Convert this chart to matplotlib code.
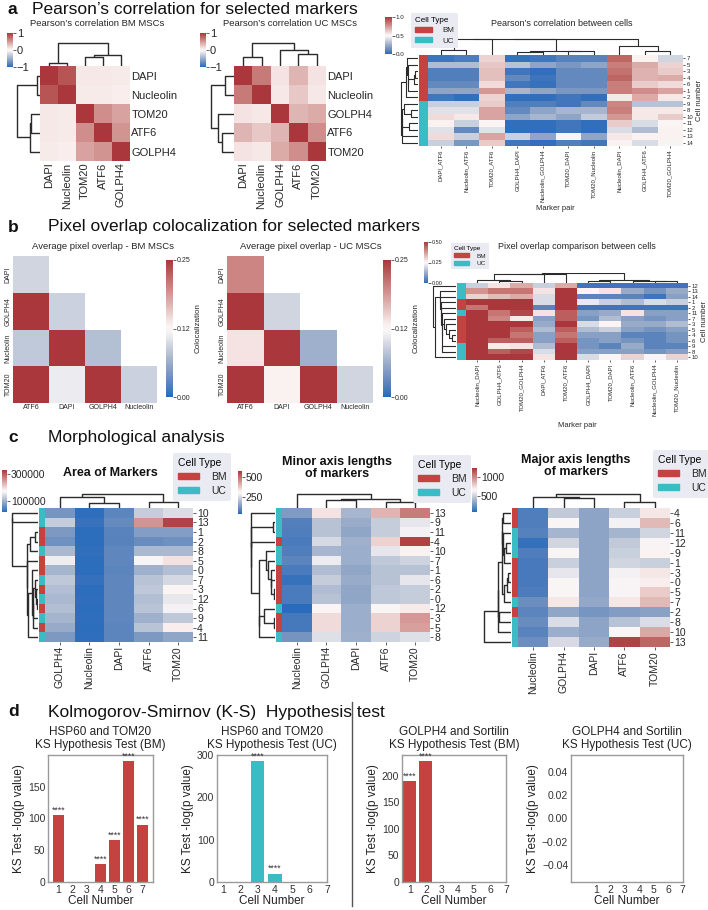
import numpy as np
import matplotlib
matplotlib.use('Agg')
import matplotlib.pyplot as plt
from matplotlib.colors import ListedColormap, Normalize
from matplotlib.cm import ScalarMappable
from matplotlib.patches import Patch
from matplotlib.lines import Line2D
import seaborn as sns

plt.rcParams['font.family'] = ['Liberation Sans', 'DejaVu Sans']

W, H = 708, 910
BM_COL = '#c4423f'
UC_COL = '#3bbcc4'
TXT = '#262626'
cmap = sns.color_palette('vlag', as_cmap=True)

# ---------------- panel a: Pearson's correlation
a_bm_markers = ['DAPI', 'Nucleolin', 'TOM20', 'ATF6', 'GOLPH4']
a_bm_corr = [[1.00, 0.85, 0.10, 0.10, 0.08],
             [0.85, 1.00, 0.08, 0.08, 0.07],
             [0.10, 0.08, 1.00, 0.55, 0.45],
             [0.10, 0.08, 0.55, 1.00, 0.52],
             [0.08, 0.07, 0.45, 0.52, 1.00]]
a_uc_markers = ['DAPI', 'Nucleolin', 'GOLPH4', 'ATF6', 'TOM20']
a_uc_corr = [[1.00, 0.65, 0.12, 0.35, 0.12],
             [0.65, 1.00, 0.10, 0.25, 0.10],
             [0.12, 0.10, 1.00, 0.35, 0.40],
             [0.35, 0.25, 0.35, 1.00, 0.55],
             [0.12, 0.10, 0.40, 0.55, 1.00]]
a_pairs = ['DAPI_ATF6', 'Nucleolin_ATF6', 'TOM20_ATF6', 'GOLPH4_DAPI', 'Nucleolin_GOLPH4',
           'TOM20_DAPI', 'TOM20_Nucleolin', 'Nucleolin_DAPI', 'GOLPH4_ATF6', 'TOM20_GOLPH4']
a_cells = [7, 5, 3, 4, 6, 1, 2, 9, 8, 10, 11, 12, 13, 14]
a_cell_corr = [[0.04, 0.07, 0.60, 0.03, 0.05, 0.09, 0.09, 0.88, 0.52, 0.38],
               [0.30, 0.30, 0.63, 0.32, 0.22, 0.17, 0.22, 0.82, 0.70, 0.60],
               [0.08, 0.08, 0.65, 0.05, 0.02, 0.12, 0.12, 0.85, 0.68, 0.62],
               [0.08, 0.08, 0.65, 0.12, 0.04, 0.12, 0.12, 0.88, 0.68, 0.70],
               [0.12, 0.12, 0.58, 0.05, 0.03, 0.12, 0.12, 0.82, 0.62, 0.58],
               [0.22, 0.22, 0.75, 0.28, 0.22, 0.17, 0.17, 0.82, 0.78, 0.72],
               [0.05, 0.02, 0.60, 0.02, 0.02, 0.05, 0.02, 0.55, 0.70, 0.55],
               [0.36, 0.36, 0.62, 0.08, 0.08, 0.05, 0.12, 0.80, 0.32, 0.32],
               [0.42, 0.42, 0.72, 0.12, 0.22, 0.28, 0.28, 0.82, 0.55, 0.55],
               [0.58, 0.55, 0.72, 0.22, 0.28, 0.22, 0.35, 0.75, 0.55, 0.62],
               [0.52, 0.36, 0.50, 0.02, 0.02, 0.05, 0.02, 0.62, 0.40, 0.50],
               [0.42, 0.12, 0.42, 0.02, 0.02, 0.05, 0.02, 0.40, 0.30, 0.52],
               [0.58, 0.36, 0.72, 0.36, 0.22, 0.50, 0.22, 0.55, 0.52, 0.52],
               [0.36, 0.17, 0.62, 0.05, 0.02, 0.08, 0.05, 0.52, 0.40, 0.48]]

# ---------------- panel b: pixel overlap
b_rows = ['DAPI', 'GOLPH4', 'Nucleolin', 'TOM20']
b_cols = ['ATF6', 'DAPI', 'GOLPH4', 'Nucleolin']
nan = np.nan
b_bm_overlap = [[0.095, nan, nan, nan],
                [0.25, 0.092, nan, nan],
                [0.085, 0.25, 0.078, nan],
                [0.25, 0.112, 0.25, 0.092]]
b_uc_overlap = [[0.20, nan, nan, nan],
                [0.25, 0.095, nan, nan],
                [0.14, 0.25, 0.065, nan],
                [0.25, 0.13, 0.25, 0.095]]
b_pairs = ['Nucleolin_DAPI', 'GOLPH4_ATF6', 'TOM20_GOLPH4', 'DAPI_ATF6', 'TOM20_ATF6',
           'GOLPH4_DAPI', 'TOM20_DAPI', 'Nucleolin_ATF6', 'Nucleolin_GOLPH4', 'TOM20_Nucleolin']
b_cells = [12, 13, 14, 1, 2, 11, 7, 3, 5, 4, 6, 9, 8, 10]
b_cell_overlap = [[0.18, 0.28, 0.35, 0.18, 0.35, 0.02, 0.02, 0.02, 0.02, 0.02],
                  [0.38, 0.42, 0.42, 0.28, 0.50, 0.25, 0.28, 0.12, 0.08, 0.12],
                  [0.30, 0.33, 0.35, 0.20, 0.50, 0.05, 0.05, 0.05, 0.02, 0.10],
                  [0.50, 0.50, 0.50, 0.20, 0.50, 0.22, 0.18, 0.15, 0.20, 0.18],
                  [0.42, 0.50, 0.50, 0.05, 0.50, 0.02, 0.02, 0.02, 0.02, 0.02],
                  [0.50, 0.42, 0.48, 0.28, 0.45, 0.10, 0.12, 0.28, 0.10, 0.10],
                  [0.50, 0.40, 0.27, 0.10, 0.45, 0.08, 0.15, 0.10, 0.08, 0.10],
                  [0.50, 0.50, 0.50, 0.12, 0.50, 0.20, 0.25, 0.12, 0.12, 0.15],
                  [0.50, 0.50, 0.45, 0.15, 0.45, 0.15, 0.18, 0.10, 0.08, 0.10],
                  [0.50, 0.50, 0.42, 0.10, 0.42, 0.10, 0.10, 0.05, 0.05, 0.08],
                  [0.50, 0.45, 0.45, 0.10, 0.45, 0.08, 0.10, 0.08, 0.05, 0.08],
                  [0.50, 0.27, 0.28, 0.15, 0.50, 0.08, 0.05, 0.12, 0.05, 0.05],
                  [0.50, 0.45, 0.48, 0.20, 0.50, 0.10, 0.10, 0.10, 0.08, 0.10],
                  [0.50, 0.50, 0.50, 0.28, 0.50, 0.20, 0.25, 0.30, 0.25, 0.30]]

# ---------------- panel c: morphology
c_area_cols = ['GOLPH4', 'Nucleolin', 'DAPI', 'ATF6', 'TOM20']
c_area_cells = [10, 13, 1, 2, 8, 5, 0, 7, 3, 12, 6, 9, 4, 11]
c_area = [[70000, 26000, 52000, 130000, 145000],
          [130000, 30000, 58000, 255000, 320000],
          [75000, 24000, 50000, 80000, 80000],
          [65000, 24000, 48000, 60000, 65000],
          [110000, 27000, 55000, 110000, 110000],
          [160000, 24000, 55000, 170000, 195000],
          [105000, 24000, 52000, 100000, 115000],
          [125000, 28000, 55000, 120000, 140000],
          [115000, 24000, 55000, 125000, 178000],
          [110000, 26000, 55000, 115000, 155000],
          [115000, 24000, 55000, 120000, 165000],
          [105000, 26000, 55000, 100000, 125000],
          [95000, 24000, 52000, 120000, 185000],
          [75000, 26000, 52000, 75000, 90000]]
c_axis_cols = ['Nucleolin', 'GOLPH4', 'DAPI', 'ATF6', 'TOM20']
c_minor_cells = [13, 9, 11, 4, 10, 7, 1, 6, 2, 0, 12, 3, 5, 8]
c_minor = [[140, 340, 190, 400, 480],
           [85, 210, 170, 230, 270],
           [80, 210, 160, 230, 290],
           [75, 250, 180, 360, 560],
           [80, 190, 175, 270, 320],
           [95, 280, 175, 220, 240],
           [75, 200, 160, 210, 210],
           [55, 230, 170, 210, 270],
           [75, 200, 160, 220, 230],
           [75, 210, 160, 220, 230],
           [45, 310, 175, 300, 330],
           [70, 350, 175, 360, 440],
           [70, 350, 175, 360, 430],
           [125, 260, 180, 240, 260]]
c_major_cells = [4, 6, 11, 12, 9, 1, 3, 0, 5, 7, 2, 8, 10, 13]
c_major = [[170, 480, 330, 500, 720],
           [170, 650, 330, 620, 850],
           [180, 400, 330, 400, 520],
           [110, 520, 330, 480, 640],
           [170, 650, 330, 500, 680],
           [150, 500, 330, 520, 500],
           [150, 580, 330, 620, 720],
           [150, 650, 330, 640, 700],
           [160, 650, 330, 640, 800],
           [240, 720, 350, 720, 850],
           [200, 340, 270, 300, 320],
           [230, 550, 330, 450, 550],
           [190, 370, 330, 650, 900],
           [240, 540, 360, 1200, 1100]]

# ---------------- panel d: KS test
ks_cells = [1, 2, 3, 4, 5, 6, 7]
hsp_bm = [105, 0, 0, 28, 66, 190, 90]
hsp_bm_stars = ['****', '', '', '****', '****', '****', '****']
hsp_uc = [0, 0, 286, 20, 0, 0, 0]
hsp_uc_stars = ['', '', '****', '****', '', '', '']
golph_bm = [190, 228, 0, 0, 0, 0, 0]
golph_bm_stars = ['****', '****', '', '', '', '', '']
golph_uc = [0, 0, 0, 0, 0, 0, 0]

fig = plt.figure(figsize=(W / 100, H / 100), dpi=100)


def box(x0, y0, x1, y1):
    return fig.add_axes([x0 / W, 1 - y1 / H, (x1 - x0) / W, (y1 - y0) / H])


def adj_tree(X):
    # average linkage, merging only neighbours so the leaf order is kept
    X = np.asarray(X, float)
    groups = [[i] for i in range(len(X))]
    nodes = list(range(len(X)))
    hts = [0.0] * len(X)
    while len(groups) > 1:
        d = [np.mean([np.linalg.norm(X[i] - X[j]) for i in groups[k] for j in groups[k + 1]])
             for k in range(len(groups) - 1)]
        k = int(np.argmin(d))
        h = max(d[k], hts[k], hts[k + 1]) + 1e-9
        nodes[k:k + 2] = [(nodes[k], nodes[k + 1], h)]
        hts[k:k + 2] = [h]
        groups[k:k + 2] = [groups[k] + groups[k + 1]]
    return nodes[0], hts[0]


def dendro(ax, X, orient, lw=0.9):
    tree, top = adj_tree(X)
    n = len(X)

    def walk(nd):
        if isinstance(nd, int):
            return nd + 0.5, 0.0
        pl, hl = walk(nd[0])
        pr, hr = walk(nd[1])
        h = nd[2]
        if orient == 'top':
            ax.plot([pl, pl, pr, pr], [hl, h, h, hr], color='#2b2b2b', lw=lw, solid_capstyle='butt')
        else:
            ax.plot([hl, h, h, hr], [pl, pl, pr, pr], color='#2b2b2b', lw=lw, solid_capstyle='butt')
        return (pl + pr) / 2, h

    walk(tree)
    if orient == 'top':
        ax.set_xlim(0, n)
        ax.set_ylim(0, top * 1.04)
    else:
        ax.set_ylim(n, 0)
        ax.set_xlim(top * 1.04, 0)
    ax.axis('off')


def heat(ax, M, norm, xl, yl, fs, right=True, tick_len=2.0):
    M = np.ma.masked_invalid(np.asarray(M, float))
    ax.pcolormesh(M, cmap=cmap, norm=norm, edgecolors='none')
    ax.set_xlim(0, M.shape[1])
    ax.set_ylim(M.shape[0], 0)
    ax.set_xticks(np.arange(M.shape[1]) + 0.5, xl, rotation=90, fontsize=fs, color=TXT)
    ax.set_yticks(np.arange(M.shape[0]) + 0.5, [str(v) for v in yl], fontsize=fs, color=TXT)
    if right:
        ax.yaxis.tick_right()
    for s in ax.spines.values():
        s.set_visible(False)
    ax.tick_params(length=tick_len, width=0.6, pad=1, color='#444')


def clustermap(cx0, cy0, cx1, cy1, M, norm, xl, yl, fs, row_w, col_h,
               types=None, strip_w=0, lw=0.9, tick_len=2.0):
    M = np.asarray(M, float)
    ax = box(cx0, cy0, cx1, cy1)
    heat(ax, M, norm, xl, yl, fs, tick_len=tick_len)
    left = cx0
    if types is not None:
        sax = box(cx0 - strip_w, cy0, cx0, cy1)
        sax.pcolormesh(np.array(types)[:, None], cmap=ListedColormap([BM_COL, UC_COL]), vmin=0, vmax=1)
        sax.set_ylim(len(types), 0)
        sax.axis('off')
        left = cx0 - strip_w - 1
    rax = box(left - row_w, cy0, left, cy1)
    dendro(rax, M, 'left', lw)
    dax = box(cx0, cy0 - col_h, cx1, cy0 - 0.5)
    dendro(dax, M.T, 'top', lw)
    return ax


def cbar(x0, y0, x1, y1, norm, ticks, labels, fs, label=None, lfs=6):
    cax = box(x0, y0, x1, y1)
    cb = fig.colorbar(ScalarMappable(norm=norm, cmap=cmap), cax=cax, ticks=ticks)
    cb.outline.set_visible(False)
    cb.set_ticklabels(labels)
    cax.tick_params(labelsize=fs, length=1.8, width=0.5, pad=1, colors=TXT)
    if label:
        cb.set_label(label, fontsize=lfs, color=TXT, labelpad=3)
    return cb


def cell_legend(x0, y0, fs, hl=2.0):
    handles = [Patch(color=BM_COL, label='BM'), Patch(color=UC_COL, label='UC')]
    fig.legend(handles=handles, title='Cell Type', loc='upper left',
               bbox_to_anchor=(x0 / W, 1 - y0 / H), fontsize=fs, title_fontsize=fs,
               frameon=True, facecolor='#eaeaf2', edgecolor='none', framealpha=1,
               handlelength=hl, handleheight=0.55, borderaxespad=0, borderpad=0.45,
               labelspacing=0.4, handletextpad=1.2, labelcolor=TXT, alignment='left')


def section(y, letter, title):
    fig.text(8 / W, 1 - y / H, letter, fontsize=12.5, fontweight='bold', va='center', color='#111')
    fig.text((32 if letter == 'a' else 48) / W, 1 - y / H, title, fontsize=12.5, va='center', color='#111')


def types_of(cells, last_bm):
    return [0 if c <= last_bm else 1 for c in cells]


# ================= panel a
section(10, 'a', 'Pearson’s correlation for selected markers')
n1 = Normalize(-1, 1)
fig.text(97 / W, 1 - 24 / H, 'Pearson’s correlation BM MSCs', fontsize=6.8, ha='center', va='center', color=TXT)
clustermap(40, 66, 130, 161, a_bm_corr, n1, a_bm_markers, a_bm_markers, 8, 24, 24, lw=1.0, tick_len=0)
cbar(7, 33, 13, 67, n1, [-1, 0, 1], ['−1', '0', '1'], 8)

fig.text(290 / W, 1 - 24 / H, 'Pearson’s correlation UC MSCs', fontsize=6.8, ha='center', va='center', color=TXT)
clustermap(234, 66, 326, 161, a_uc_corr, n1, a_uc_markers, a_uc_markers, 8, 24, 24, lw=1.0, tick_len=0)
cbar(200, 33, 206, 67, n1, [-1, 0, 1], ['−1', '0', '1'], 8)

n01 = Normalize(0, 1)
fig.text(562 / W, 1 - 24 / H, 'Pearson’s correlation between cells', fontsize=6.5, ha='center', va='center', color=TXT)
ax = clustermap(428, 55, 683, 146, a_cell_corr, n01, a_pairs, a_cells, 4.3, 18, 17,
                types=types_of(a_cells, 7), strip_w=9, lw=0.8, tick_len=1.5)
ax.set_xlabel('Marker pair', fontsize=5.5, color=TXT, labelpad=2)
ax.yaxis.set_label_position('right')
ax.set_ylabel('Cell number', fontsize=5.5, color=TXT, labelpad=2)
cbar(385, 17, 392, 54, n01, [0, 0.5, 1], ['0.0', '0.5', '1.0'], 4.5)
cell_legend(411, 13, 5.8, hl=2.2)

# ================= panel b
section(227, 'b', 'Pixel overlap colocalization for selected markers')
n25 = Normalize(0, 0.25)
for (x0, x1, cx0, cx1, M, sub, tc) in [(13, 157, 166, 173, b_bm_overlap, 'Average pixel overlap - BM MSCs', 103),
                                        (227, 373, 383, 391, b_uc_overlap, 'Average pixel overlap - UC MSCs', 311)]:
    ax = box(x0, 256, x1, 403)
    heat(ax, M, n25, b_cols, b_rows, 5, right=False, tick_len=0)
    ax.set_xticks(np.arange(4) + 0.5, b_cols, rotation=0, fontsize=5, color=TXT)
    for t in ax.get_yticklabels():
        t.set_rotation(90)
        t.set_va('center')
    fig.text(tc / W, 1 - 247 / H, sub, fontsize=6.8, ha='center', va='center', color=TXT)
    cbar(cx0, 260, cx1, 397, n25, [0, 0.125, 0.25], ['0.00', '0.12', '0.25'], 5,
         label='Colocalization', lfs=5.8)

n50 = Normalize(0, 0.5)
fig.text(577 / W, 1 - 247 / H, 'Pixel overlap comparison between cells', fontsize=6.5, ha='center', va='center', color=TXT)
ax = clustermap(466, 283, 688, 360, b_cell_overlap, n50, b_pairs, b_cells, 4.3, 24, 10,
                types=types_of(b_cells, 7), strip_w=9, lw=0.8, tick_len=1.5)
ax.set_xlabel('Marker pair', fontsize=5.5, color=TXT, labelpad=4)
ax.yaxis.set_label_position('right')
ax.set_ylabel('Cell number', fontsize=5.5, color=TXT, labelpad=2)
cbar(424, 242, 428, 283, n50, [0, 0.25, 0.5], ['0.00', '0.25', '0.50'], 4)
cell_legend(451, 243, 4.6, hl=2.4)

# ================= panel c
section(437, 'c', 'Morphological analysis')
c_specs = [
    (45, 193, 642, c_area, c_area_cols, c_area_cells, (20000, 330000), [100000, 300000], 'Area of Markers',
     110, 473, (2, 470, 7, 512), (173, 453), 27),
    (282, 430, 642, c_minor, c_axis_cols, c_minor_cells, (40, 575), [250, 500], 'Minor axis lengths\nof markers',
     337, 468, (238, 471, 242, 514), (413, 455), 25),
    (518, 670, 647, c_major, c_axis_cols, c_major_cells, (80, 1240), [500, 1000], 'Major axis lengths\nof markers',
     576, 466, (472, 468, 477, 512), (653, 450), 28),
]
for (x0, x1, y1, M, cols, cells, lim, ticks, title, tx, ty, cb_box, lg, rw) in c_specs:
    nrm = Normalize(*lim)
    clustermap(x0, 508, x1, y1, M, nrm, cols, cells, 7.5, rw, 15,
               types=types_of(cells, 6), strip_w=6, lw=1.0, tick_len=2.0)
    fig.text(tx / W, 1 - ty / H, title, fontsize=9, fontweight='bold', ha='center', va='center',
             color='#111', linespacing=1.1)
    cbar(*cb_box, nrm, ticks, [str(t) for t in ticks], 7.5)
    cell_legend(lg[0], lg[1], 7.5, hl=2.0)

# ================= panel d
section(712, 'd', 'Kolmogorov-Smirnov (K-S)  Hypothesis test')
fig.add_artist(Line2D([352 / W, 352 / W], [1 - 702 / H, 1 - 906 / H], color='#555555', lw=1.0))


def ks_panel(x0, x1, vals, stars, color, title, xlim, yticks, ylim=None):
    ax = box(x0, 755, x1, 882)
    ax.bar(ks_cells, vals, width=0.8, color=color)
    if ylim:
        ax.set_ylim(*ylim)
    top = ax.get_ylim()[1]
    for c, v, s in zip(ks_cells, vals, stars):
        if s:
            ax.text(c, v + top * 0.004, s, ha='center', va='bottom', fontsize=6.3, color='#333333', clip_on=False)
    ax.set_yticks(yticks)
    ax.set_xticks(ks_cells)
    ax.set_xlim(*xlim)
    if ylim:
        ax.set_ylim(*ylim)
    ax.set_title(title, fontsize=8.5, pad=5, color='#222222', linespacing=1.15)
    ax.set_xlabel('Cell Number', fontsize=8.5, labelpad=0, color='#222222')
    ax.set_ylabel('KS Test -log(p value)', fontsize=8.5, labelpad=2, color='#222222')
    ax.tick_params(length=0, labelsize=7.5, colors='#333333', pad=2)
    for s in ax.spines.values():
        s.set_color('#9a9a9a')
        s.set_linewidth(1)
    return ax


ks_panel(48, 153, hsp_bm, hsp_bm_stars, BM_COL, 'HSP60 and TOM20\nKS Hypothesis Test (BM)',
         (0.26, 7.74), [0, 50, 100, 150])
ks_panel(217, 327, hsp_uc, hsp_uc_stars, UC_COL, 'HSP60 and TOM20\nKS Hypothesis Test (UC)',
         (0.67, 7.0), [0, 100, 200, 300])
ks_panel(402, 506, golph_bm, golph_bm_stars, BM_COL, 'GOLPH4 and Sortilin\nKS Hypothesis Test (BM)',
         (0.51, 7.0), [0, 50, 100, 150, 200])
ks_panel(571, 683, golph_uc, [''] * 7, UC_COL, 'GOLPH4 and Sortilin\nKS Hypothesis Test (UC)',
         (-0.74, 7.05), [-0.04, -0.02, 0.0, 0.02, 0.04], ylim=(-0.055, 0.055))

fig.savefig('out.png', dpi=100, facecolor='white')
